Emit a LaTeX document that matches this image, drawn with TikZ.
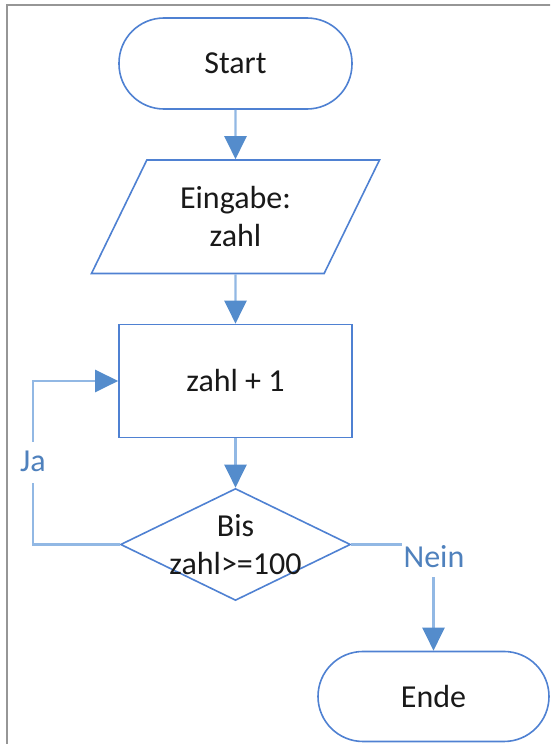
\documentclass[tikz,border=0pt]{standalone}
\usepackage{fontspec}
\setmainfont{Carlito}
\usetikzlibrary{positioning,shapes.geometric,arrows.meta}

\definecolor{boxblue}{RGB}{79,129,210}
\definecolor{lineblue}{RGB}{146,184,228}
\definecolor{tipblue}{RGB}{84,140,204}
\definecolor{lblblue}{RGB}{79,129,189}
\definecolor{framegray}{RGB}{150,150,150}
\gdef\Bfill{white}

\begin{document}
\begin{tikzpicture}[x=1pt, y=-1pt, node distance=49.4pt,
  every node/.style={font=\fontsize{32}{38}\selectfont, text=black!90},
  terminal/.style={draw=boxblue, line width=1.6pt, fill=\Bfill, rounded corners=45pt,
    minimum width=233pt, minimum height=91pt, inner sep=0pt},
  io/.style={draw=boxblue, line width=1.6pt, fill=\Bfill, trapezium, trapezium stretches body,
    trapezium left angle=64, trapezium right angle=116,
    minimum width=288pt, inner xsep=0pt, inner ysep=26.5pt, align=center},
  process/.style={draw=boxblue, line width=1.6pt, fill=\Bfill,
    minimum width=233pt, minimum height=113pt, inner sep=0pt},
  decision/.style={draw=boxblue, line width=1.6pt, fill=\Bfill, diamond,
    minimum width=230pt, minimum height=112pt, inner sep=0pt},
  conn/.style={draw=lineblue, line width=2.2pt,
    -{Triangle[length=23pt, width=22pt, color=tipblue, fill=tipblue]}},
  lbl/.style={fill=\Bfill, text=lblblue, inner xsep=2pt, inner ysep=0pt}]

\path[use as bounding box, clip] (0,0) rectangle (550,744);
\draw[framegray, line width=1.5pt] (7,5) rectangle (620,800);

\node[terminal] (start) at (235.5,63.5) {Start};
\node[io] (eingabe) [below=of start] {Eingabe:\\zahl};
\node[process] (inc) [below=of eingabe] {zahl + 1};
\node[decision] (cond) [below=of inc] {};
\node[align=center] (condtext) at (cond) {Bis\\zahl>=100};
\node[terminal, minimum width=231pt, minimum height=90pt] (ende) [below=of cond, xshift=198pt] {Ende};

\coordinate (jaPt) at (33,462);

\draw[conn] (start) -- (eingabe);
\draw[conn] (eingabe) -- (inc);
\draw[conn] (inc) -- (cond);
\draw[conn] (cond.west) -| (jaPt) |- (inc.west);
\draw[conn] (cond.east) -| (ende.north);

\node[lbl, anchor=base, text height=29pt, text depth=12pt] (ja) at (33,471) {Ja};
\node[lbl, anchor=base, text height=26pt, text depth=10pt] (nein) at (434,567) {Nein};
\end{tikzpicture}
\end{document}
